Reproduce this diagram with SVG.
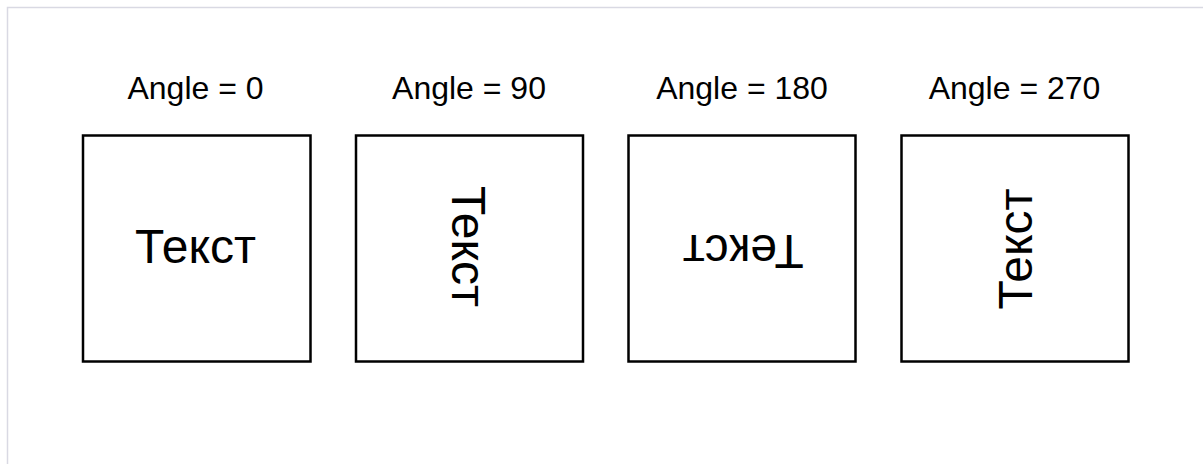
<svg xmlns="http://www.w3.org/2000/svg" width="1203" height="464" viewBox="0 0 1203 464">
<style>
.frame{fill:none;stroke:#d9d9e3;stroke-width:1.5}
.box{fill:#fff;stroke:#000;stroke-width:2.5}
.lbl{font-family:"Liberation Sans",Arial,sans-serif;font-size:32px;fill:#000;text-anchor:middle}
.txt{font-family:"Liberation Sans",Arial,sans-serif;font-size:48px;fill:#000;text-anchor:middle}
</style>
<rect x="0" y="0" width="1203" height="464" fill="#fff"/>
<rect class="frame" x="7.5" y="7.5" width="1210" height="470"/>
<g id="node-angle-0">
<text class="lbl" x="195.5" y="99">Angle = 0</text>
<rect class="box" x="83" y="135.5" width="227.5" height="226"/>
<text class="txt" transform="translate(195.5,263.3)">Текст</text>
</g>
<g id="node-angle-90">
<text class="lbl" x="469" y="99">Angle = 90</text>
<rect class="box" x="356" y="135.5" width="227" height="226"/>
<text class="txt" transform="translate(451.7,246.5) rotate(90)">Текст</text>
</g>
<g id="node-angle-180">
<text class="lbl" x="742" y="99">Angle = 180</text>
<rect class="box" x="628.5" y="135.5" width="227" height="226"/>
<text class="txt" transform="translate(743.3,235) rotate(180)">Текст</text>
</g>
<g id="node-angle-270">
<text class="lbl" x="1014.5" y="99">Angle = 270</text>
<rect class="box" x="901.5" y="135.5" width="227" height="226"/>
<text class="txt" transform="translate(1031.7,249) rotate(270)">Текст</text>
</g>
<g id="connectors"></g>
</svg>
